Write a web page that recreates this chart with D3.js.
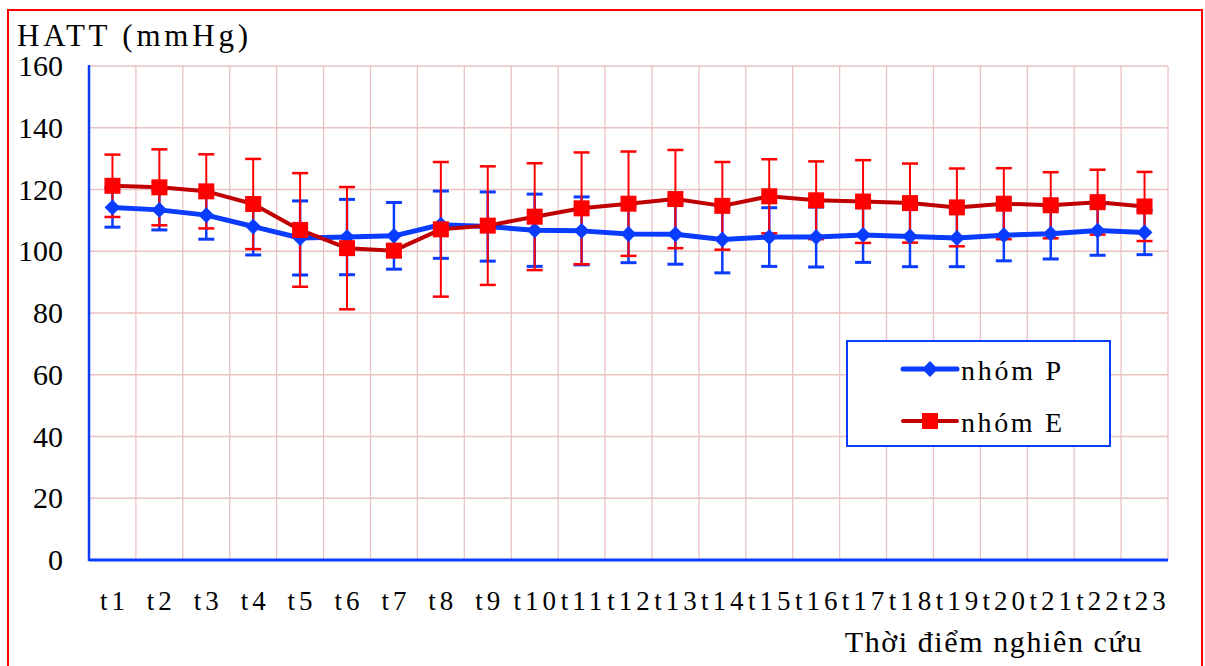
<!DOCTYPE html>
<html>
<head>
<meta charset="utf-8">
<script src="https://cdn.jsdelivr.net/npm/d3@7/dist/d3.min.js"></script>
</head>
<body style="margin:0">
<svg id="chart" width="1205" height="666"></svg>
<script>
const categories = ["t1","t2","t3","t4","t5","t6","t7","t8","t9","t10","t11","t12","t13","t14","t15","t16","t17","t18","t19","t20","t21","t22","t23"];
const meanP = [114.2,113.4,111.7,108.0,104.3,104.6,105.0,108.6,108.0,106.8,106.6,105.6,105.5,103.8,104.6,104.6,105.3,104.8,104.3,105.2,105.7,106.7,106.1];
const sdP   = [6.4,6.5,7.8,9.2,12.0,12.2,10.8,10.9,11.2,11.7,11.0,9.3,9.7,10.8,9.5,9.7,8.9,9.8,9.3,8.3,8.2,8.0,7.2];
const meanE = [121.2,120.7,119.4,115.3,106.9,101.0,100.2,107.1,108.3,111.2,113.9,115.4,116.9,114.7,117.8,116.5,116.1,115.6,114.2,115.4,114.9,115.9,114.5];
const sdE   = [10.1,12.3,12.0,14.6,18.4,19.8,2.0,21.8,19.2,17.3,18.1,16.9,15.9,14.2,12.0,12.6,13.4,12.8,12.6,11.5,10.7,10.5,11.2];
const yTicks = [0,20,40,60,80,100,120,140,160];
const seriesNames = ["nhóm P","nhóm E"];
const yTitle = "HATT (mmHg)";
const xTitle = "Thời điểm nghiên cứu";

const FONT = "Liberation Serif";
const svg = d3.select("#chart");
const pL = 89, pR = 1168, pT = 66, pB = 560;

const x = d3.scaleBand().domain(categories).range([pL, pR]).paddingInner(0).paddingOuter(0);
const y = d3.scaleLinear().domain([0, 160]).range([pB, pT]);

const gridColor = "#ebc2c2";
const blue = "#0a3cff";
const redLine = "#c00000";
const redMark = "#ff0000";

svg.append("rect").attr("x", 8).attr("y", 10).attr("width", 1194).attr("height", 670)
  .attr("fill", "none").attr("stroke", "#ff0000").attr("stroke-width", 2);

const grid = svg.append("g");
grid.selectAll("line.h").data(yTicks.filter(d => d > 0)).enter().append("line")
  .attr("x1", pL).attr("x2", pR)
  .attr("y1", d => y(d)).attr("y2", d => y(d))
  .attr("stroke", gridColor).attr("stroke-width", 1.3);
grid.selectAll("line.v").data(categories).enter().append("line")
  .attr("x1", d => x(d) + x.bandwidth()).attr("x2", d => x(d) + x.bandwidth())
  .attr("y1", pT).attr("y2", pB)
  .attr("stroke", gridColor).attr("stroke-width", 1.3);

// y tick labels
svg.append("g").selectAll("text").data(yTicks).enter().append("text")
  .attr("x", pL - 26).attr("y", d => y(d) + 10)
  .attr("text-anchor", "end")
  .style("font-family", FONT).style("font-size", "30px")
  .attr("fill", "#000").text(d => d);

// x tick labels
svg.append("g").selectAll("text").data(categories).enter().append("text")
  .attr("x", d => x(d) + x.bandwidth() / 2 + 2).attr("y", pB + 50)
  .attr("text-anchor", "middle")
  .style("font-family", FONT).style("font-size", "27px").style("letter-spacing", "4px")
  .attr("fill", "#000").text(d => d);

svg.append("line").attr("x1", pL).attr("x2", pL).attr("y1", pT - 1).attr("y2", pB + 1)
  .attr("stroke", blue).attr("stroke-width", 2.5);
svg.append("line").attr("x1", pL).attr("x2", pR).attr("y1", pB).attr("y2", pB)
  .attr("stroke", blue).attr("stroke-width", 3);

svg.append("text").attr("x", 17).attr("y", 46)
  .style("font-family", FONT).style("font-size", "31px")
  .attr("textLength", 231).attr("lengthAdjust", "spacing")
  .attr("fill", "#000").text(yTitle);
svg.append("text").attr("x", 1143).attr("y", 652)
  .style("font-family", FONT).style("font-size", "30px").style("letter-spacing", "1.6px")
  .attr("text-anchor", "end").attr("fill", "#000").text(xTitle);

const cx = d => x(d) + x.bandwidth() / 2;
const dataP = categories.map((c, i) => ({c, m: meanP[i], s: sdP[i]}));
const dataE = categories.map((c, i) => ({c, m: meanE[i], s: sdE[i]}));

function errorBars(data, color, w, capW) {
  const g = svg.append("g").attr("stroke", color);
  g.selectAll("line.v").data(data).enter().append("line")
    .attr("x1", d => cx(d.c)).attr("x2", d => cx(d.c))
    .attr("y1", d => y(d.m + d.s)).attr("y2", d => y(d.m - d.s))
    .attr("stroke-width", w);
  g.selectAll("line.t").data(data).enter().append("line")
    .attr("x1", d => cx(d.c) - capW / 2).attr("x2", d => cx(d.c) + capW / 2)
    .attr("y1", d => y(d.m + d.s)).attr("y2", d => y(d.m + d.s))
    .attr("stroke-width", w + 0.5);
  g.selectAll("line.b").data(data).enter().append("line")
    .attr("x1", d => cx(d.c) - capW / 2).attr("x2", d => cx(d.c) + capW / 2)
    .attr("y1", d => y(d.m - d.s)).attr("y2", d => y(d.m - d.s))
    .attr("stroke-width", w + 0.5);
}
errorBars(dataP, blue, 2.5, 16);
errorBars(dataE, redMark, 2, 16);

const line = d3.line().x(d => cx(d.c)).y(d => y(d.m));
svg.append("path").datum(dataP).attr("d", line).attr("fill", "none")
  .attr("stroke", blue).attr("stroke-width", 5).attr("stroke-linejoin", "round");
svg.append("path").datum(dataE).attr("d", line).attr("fill", "none")
  .attr("stroke", redLine).attr("stroke-width", 4).attr("stroke-linejoin", "round");

const diamond = d3.symbol().type(d3.symbolDiamond2).size(160);
svg.selectAll("path.mp").data(dataP).enter().append("path")
  .attr("transform", d => `translate(${cx(d.c)},${y(d.m)})`)
  .attr("d", diamond).attr("fill", blue);
svg.selectAll("rect.me").data(dataE).enter().append("rect")
  .attr("x", d => cx(d.c) - 8).attr("y", d => y(d.m) - 8)
  .attr("width", 16).attr("height", 16).attr("fill", redMark);

const lg = svg.append("g");
lg.append("rect").attr("x", 847).attr("y", 341).attr("width", 263).attr("height", 105)
  .attr("fill", "#fff").attr("stroke", blue).attr("stroke-width", 2);
const rows = [{name: seriesNames[0], yc: 369, lc: blue, w: 100}, {name: seriesNames[1], yc: 421, lc: redLine, w: 101}];
rows.forEach((r, i) => {
  lg.append("line").attr("x1", 903).attr("x2", 957).attr("y1", r.yc).attr("y2", r.yc)
    .attr("stroke", r.lc).attr("stroke-width", i === 0 ? 5 : 4).attr("stroke-linecap", "round");
  if (i === 0) {
    lg.append("path").attr("transform", `translate(930,${r.yc})`).attr("d", diamond).attr("fill", blue);
  } else {
    lg.append("rect").attr("x", 922).attr("y", r.yc - 8).attr("width", 16).attr("height", 16).attr("fill", redMark);
  }
  lg.append("text").attr("x", 961).attr("y", r.yc + 11)
    .style("font-family", FONT).style("font-size", "28px")
    .attr("textLength", r.w).attr("lengthAdjust", "spacing")
    .attr("fill", "#000").text(r.name);
});
</script>
</body>
</html>
